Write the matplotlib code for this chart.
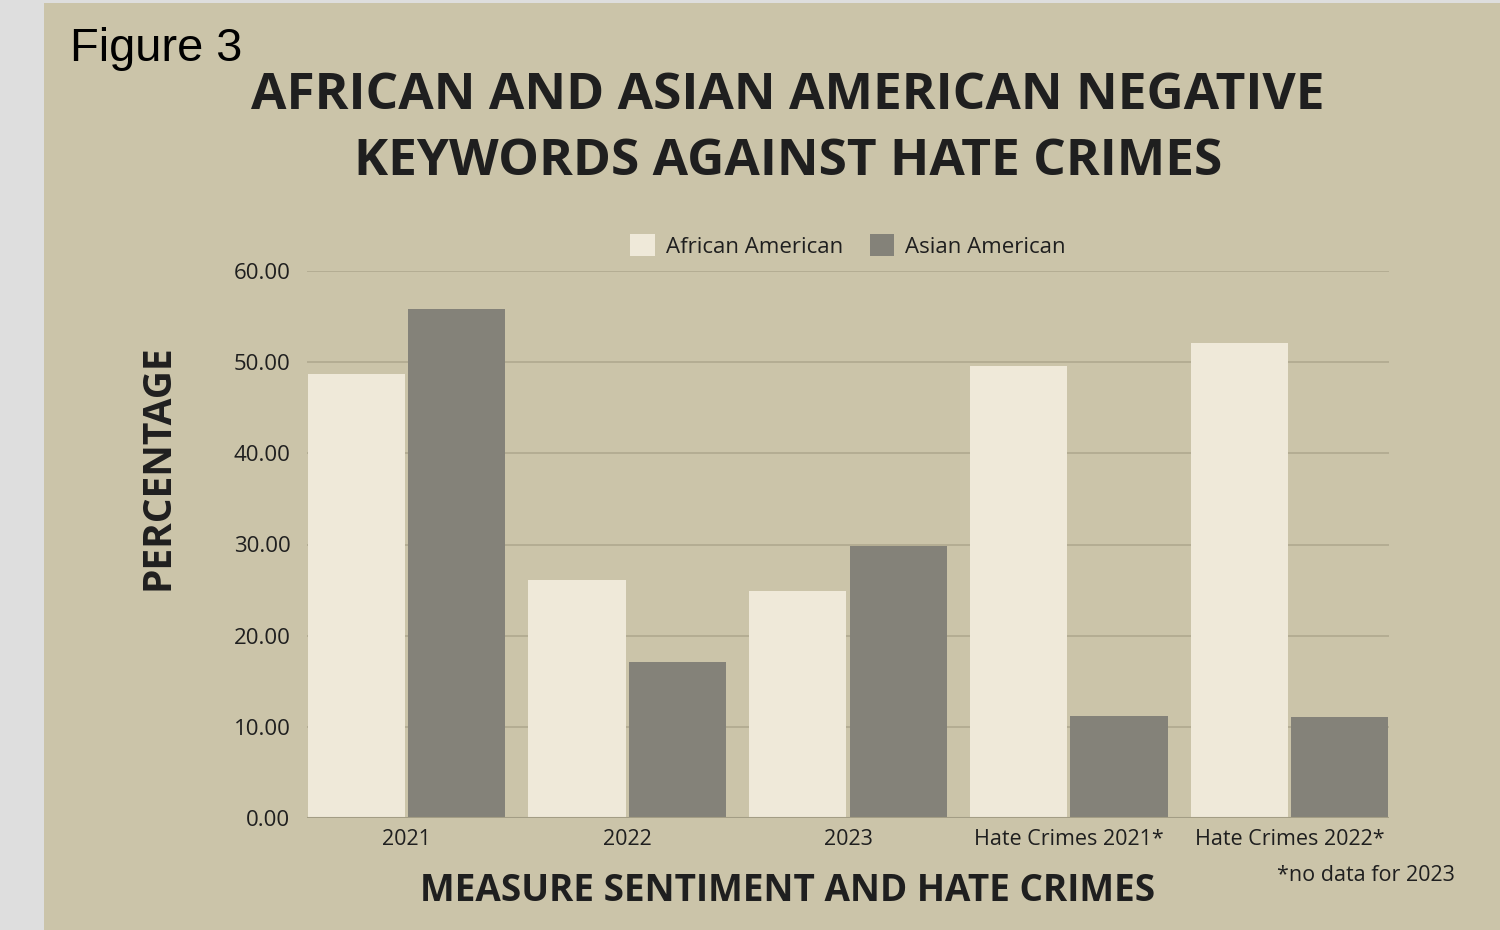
import numpy as np
import matplotlib.pyplot as plt
from matplotlib.patches import Rectangle

categories = ['2021', '2022', '2023', 'Hate Crimes 2021*', 'Hate Crimes 2022*']
african = [48.7, 26.1, 24.9, 49.6, 52.1]
asian = [55.8, 17.1, 29.8, 11.2, 11.1]
yticks = [0, 10, 20, 30, 40, 50, 60]

bg = '#cbc4a9'
light = '#efe9d9'
dark = '#848279'
grid = '#b2ab91'
ink = '#1f1f1f'

plt.rcParams['font.family'] = ['Open Sans', 'DejaVu Sans']

fig = plt.figure(figsize=(15, 9.3), dpi=100)
fig.patch.set_facecolor('#dedede')
fig.patches.append(Rectangle((44 / 1500, 0), 1, 1 - 3 / 930, transform=fig.transFigure,
                             facecolor=bg, edgecolor='none', zorder=-5))

ax = fig.add_axes([307 / 1500, 1 - 818 / 930, 1082 / 1500, 547 / 930])
ax.set_facecolor('none')

x = np.arange(len(categories))
w = 0.44
ax.bar(x - 0.227, african, w, color=light, label='African American', zorder=3)
ax.bar(x + 0.227, asian, w, color=dark, label='Asian American', zorder=3)

ax.set_xlim(-0.45, 4.45)
ax.set_ylim(0, 60)
ax.set_yticks(yticks)
ax.set_yticklabels(['%.2f' % v for v in yticks], fontsize=16, color=ink)
ax.set_xticks(x)
ax.set_xticklabels(categories, fontsize=15.5, color=ink)
ax.tick_params(length=0, pad=12)
ax.tick_params(axis='x', pad=8)
ax.yaxis.grid(True, color=grid, lw=1.3, zorder=0)
for s in ax.spines.values():
    s.set_visible(False)
ax.axhline(0, color='#a39d85', lw=1.5, zorder=4)

ax.legend(loc='lower center', bbox_to_anchor=(0.5, 0.988), ncol=2, frameon=False,
          fontsize=16, handlelength=1.1, handleheight=1.2, columnspacing=1.2,
          handletextpad=0.5, labelcolor=ink)

fig.text(70 / 1500, 1 - 49 / 930, 'Figure 3', fontsize=33.8, color='black',
         family='Liberation Sans', va='center', ha='left')
fig.text(788 / 1500, 1 - 96 / 930, 'AFRICAN AND ASIAN AMERICAN NEGATIVE', fontsize=37,
         fontweight='bold', color=ink, ha='center', va='center')
fig.text(788 / 1500, 1 - 162 / 930, 'KEYWORDS AGAINST HATE CRIMES', fontsize=37,
         fontweight='bold', color=ink, ha='center', va='center')
fig.text(158 / 1500, 1 - 467 / 930, 'PERCENTAGE', fontsize=28, fontweight='bold',
         color=ink, rotation=90, ha='center', va='center')
fig.text(788 / 1500, 1 - 891 / 930, 'MEASURE SENTIMENT AND HATE CRIMES', fontsize=26.6,
         fontweight='bold', color=ink, ha='center', va='center')
fig.text(1455 / 1500, 1 - 875 / 930, '*no data for 2023', fontsize=15.5, color=ink,
         ha='right', va='center')

fig.savefig('out.png', dpi=100, facecolor=fig.get_facecolor())
